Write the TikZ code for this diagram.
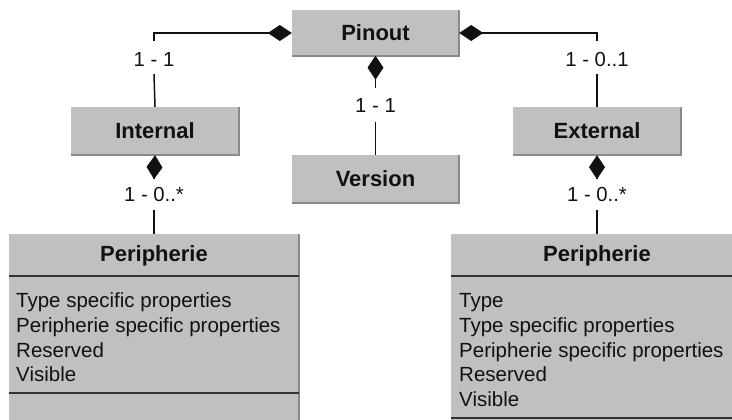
\documentclass[tikz,border=0pt]{standalone}
\usepackage{fontspec}
\setmainfont{Liberation Sans}
\usetikzlibrary{arrows.meta}
\definecolor{boxgray}{HTML}{C0C0C0}
\definecolor{edgegray}{HTML}{8A8A8A}
\definecolor{sepgray}{HTML}{333333}
\definecolor{inkc}{HTML}{111111}
\tikzset{
  umlbox/.style={rectangle, fill=boxgray, inner sep=0pt, font=\fontsize{22}{24}\selectfont\bfseries, text=inkc},
  umledge/.style={draw=edgegray, line width=2pt},
  sepline/.style={draw=sepgray, line width=2.2pt},
  conn/.style={draw=inkc, line width=1.5pt},
  comp/.style={conn, {Diamond[length=24pt,width=16pt]}-},
  mult/.style={inner sep=0pt, anchor=base, font=\fontsize{20.3}{24}\selectfont, text=inkc},
  attrs/.style={inner sep=0pt, anchor=base west, align=left, font=\fontsize{20.5}{24.75}\selectfont, text=inkc},
  headtxt/.style={inner sep=0pt, font=\fontsize{22}{24}\selectfont\bfseries, text=inkc}
}
\begin{document}
\begin{tikzpicture}[x=1pt,y=-1pt]
\useasboundingbox (0,0) rectangle (732,420);
\clip (0,0) rectangle (732,420);
% boxes
\node[umlbox, minimum width=167pt, minimum height=45pt] (pinout) at (375.5,33) {Pinout};
\node[umlbox, minimum width=168pt, minimum height=48pt] (internal) at (155,131) {Internal};
\node[umlbox, minimum width=167pt, minimum height=47pt] (version) at (375.5,179) {Version};
\node[umlbox, minimum width=168pt, minimum height=48pt] (external) at (597,131) {External};
\node[umlbox, minimum width=290pt, minimum height=206pt] (perL) at (154,337) {};
\node[umlbox, minimum width=292pt, minimum height=206pt] (perR) at (597,337) {};
\foreach \n in {pinout,internal,version,external,perL,perR}{
  \draw[umledge] (\n.north east) -- (\n.south east) -- (\n.south west);
}
% compartments
\coordinate (sLa) at (9,276);
\coordinate (sLb) at (299,276);
\coordinate (sLc) at (9,393);
\coordinate (sLd) at (299,393);
\draw[sepline] (sLa) -- (sLb);
\draw[sepline] (sLc) -- (sLd);
\coordinate (sRa) at (451,276);
\coordinate (sRb) at (743,276);
\coordinate (sRc) at (451,418);
\coordinate (sRd) at (743,418);
\draw[sepline] (sRa) -- (sRb);
\draw[sepline] (sRc) -- (sRd);
\node[headtxt] (perLhead) at (154,256) {Peripherie};
\node[headtxt] (perRhead) at (597,256) {Peripherie};
\node[attrs] (perLattr) at (16,381.75) {Type specific properties\\Peripherie specific properties\\Reserved\\Visible};
\node[attrs] (perRattr) at (459,406.5) {Type\\Type specific properties\\Peripherie specific properties\\Reserved\\Visible};
% multiplicity labels
\node[mult, text height=26pt, text depth=7pt] (m1) at (154,67) {1 - 1};
\node[mult, text height=25pt, text depth=9pt] (m2) at (375.5,113) {1 - 1};
\node[mult, text height=26pt, text depth=7pt] (m3) at (597,67) {1 - 0..1};
\node[mult, text height=22pt, text depth=9pt] (m4) at (154,201) {1 - 0..*};
\node[mult, text height=22pt, text depth=9pt] (m5) at (597,201) {1 - 0..*};
% connectors
\draw[comp] (pinout.west) -| (m1.north);
\draw[conn] (m1.south) -- (internal.north);
\draw[comp] (pinout.south) -- (m2.north);
\draw[conn] (m2.south) -- (version.north);
\draw[comp] (pinout.east) -| (m3.north);
\draw[conn] (m3.south) -- (external.north);
\draw[comp] (internal.south) -- (m4.north);
\draw[conn] (m4.south) -- (perL.north);
\draw[comp] (external.south) -- (m5.north);
\draw[conn] (m5.south) -- (perR.north);
\end{tikzpicture}
\end{document}
